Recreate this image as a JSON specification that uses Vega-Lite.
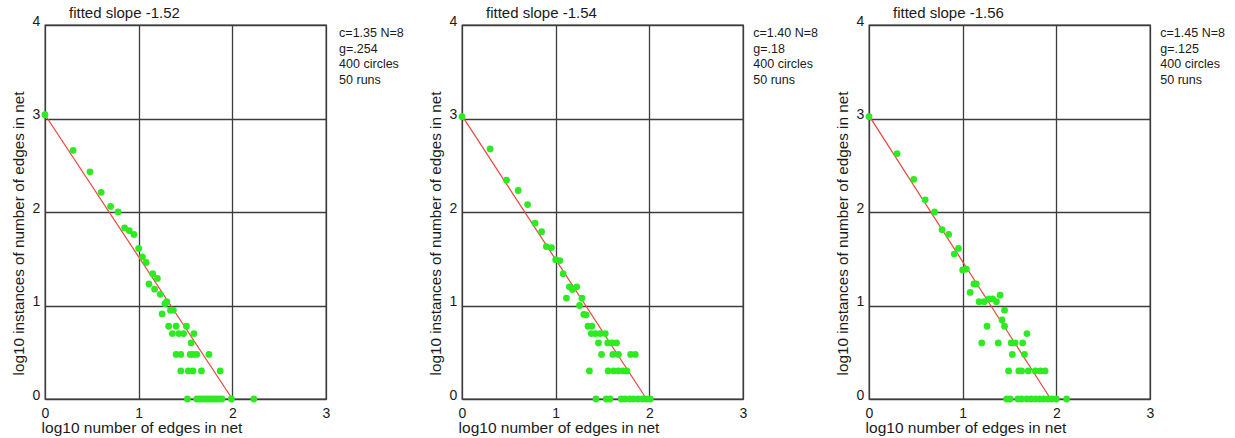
{
  "$schema": "https://vega.github.io/schema/vega-lite/v6.json",
  "padding": {"left": 10, "top": 5, "right": 0, "bottom": 0},
  "background": "white",
  "datasets": {
    "points": [
      {"panel": 1, "x": 0, "y": 3.04}, {"panel": 1, "x": 0.30, "y": 2.66}, {"panel": 1, "x": 0.48, "y": 2.43}, {"panel": 1, "x": 0.60, "y": 2.21}, {"panel": 1, "x": 0.70, "y": 2.06}, {"panel": 1, "x": 0.78, "y": 2.00}, {"panel": 1, "x": 0.85, "y": 1.83}, {"panel": 1, "x": 0.90, "y": 1.80}, {"panel": 1, "x": 0.95, "y": 1.76}, {"panel": 1, "x": 1.00, "y": 1.61}, {"panel": 1, "x": 1.04, "y": 1.52}, {"panel": 1, "x": 1.08, "y": 1.46}, {"panel": 1, "x": 1.15, "y": 1.34}, {"panel": 1, "x": 1.20, "y": 1.29}, {"panel": 1, "x": 1.11, "y": 1.23}, {"panel": 1, "x": 1.17, "y": 1.175}, {"panel": 1, "x": 1.23, "y": 1.12}, {"panel": 1, "x": 1.30, "y": 1.04}, {"panel": 1, "x": 1.28, "y": 1.02}, {"panel": 1, "x": 1.34, "y": 0.95}, {"panel": 1, "x": 1.37, "y": 0.95}, {"panel": 1, "x": 1.25, "y": 0.91}, {"panel": 1, "x": 1.32, "y": 0.778}, {"panel": 1, "x": 1.40, "y": 0.778}, {"panel": 1, "x": 1.51, "y": 0.778}, {"panel": 1, "x": 1.36, "y": 0.70}, {"panel": 1, "x": 1.43, "y": 0.70}, {"panel": 1, "x": 1.48, "y": 0.70}, {"panel": 1, "x": 1.59, "y": 0.70}, {"panel": 1, "x": 1.56, "y": 0.60}, {"panel": 1, "x": 1.40, "y": 0.477}, {"panel": 1, "x": 1.45, "y": 0.477}, {"panel": 1, "x": 1.55, "y": 0.477}, {"panel": 1, "x": 1.58, "y": 0.477}, {"panel": 1, "x": 1.62, "y": 0.477}, {"panel": 1, "x": 1.75, "y": 0.477}, {"panel": 1, "x": 1.45, "y": 0.30}, {"panel": 1, "x": 1.53, "y": 0.30}, {"panel": 1, "x": 1.58, "y": 0.30}, {"panel": 1, "x": 1.67, "y": 0.30}, {"panel": 1, "x": 1.87, "y": 0.30}, {"panel": 1, "x": 1.52, "y": 0}, {"panel": 1, "x": 1.62, "y": 0}, {"panel": 1, "x": 1.65, "y": 0}, {"panel": 1, "x": 1.68, "y": 0}, {"panel": 1, "x": 1.71, "y": 0}, {"panel": 1, "x": 1.74, "y": 0}, {"panel": 1, "x": 1.77, "y": 0}, {"panel": 1, "x": 1.80, "y": 0}, {"panel": 1, "x": 1.83, "y": 0}, {"panel": 1, "x": 1.86, "y": 0}, {"panel": 1, "x": 1.89, "y": 0}, {"panel": 1, "x": 1.99, "y": 0}, {"panel": 1, "x": 2.23, "y": 0},
      {"panel": 2, "x": 0, "y": 3.02}, {"panel": 2, "x": 0.30, "y": 2.675}, {"panel": 2, "x": 0.475, "y": 2.34}, {"panel": 2, "x": 0.60, "y": 2.23}, {"panel": 2, "x": 0.70, "y": 2.08}, {"panel": 2, "x": 0.78, "y": 1.88}, {"panel": 2, "x": 0.85, "y": 1.79}, {"panel": 2, "x": 0.90, "y": 1.63}, {"panel": 2, "x": 0.955, "y": 1.62}, {"panel": 2, "x": 1.00, "y": 1.49}, {"panel": 2, "x": 1.045, "y": 1.48}, {"panel": 2, "x": 1.08, "y": 1.34}, {"panel": 2, "x": 1.146, "y": 1.20}, {"panel": 2, "x": 1.18, "y": 1.17}, {"panel": 2, "x": 1.225, "y": 1.20}, {"panel": 2, "x": 1.115, "y": 1.08}, {"panel": 2, "x": 1.28, "y": 1.08}, {"panel": 2, "x": 1.255, "y": 1.00}, {"panel": 2, "x": 1.30, "y": 0.905}, {"panel": 2, "x": 1.325, "y": 0.90}, {"panel": 2, "x": 1.345, "y": 0.778}, {"panel": 2, "x": 1.386, "y": 0.778}, {"panel": 2, "x": 1.38, "y": 0.70}, {"panel": 2, "x": 1.425, "y": 0.70}, {"panel": 2, "x": 1.475, "y": 0.70}, {"panel": 2, "x": 1.53, "y": 0.70}, {"panel": 2, "x": 1.457, "y": 0.60}, {"panel": 2, "x": 1.556, "y": 0.60}, {"panel": 2, "x": 1.60, "y": 0.60}, {"panel": 2, "x": 1.65, "y": 0.60}, {"panel": 2, "x": 1.49, "y": 0.477}, {"panel": 2, "x": 1.61, "y": 0.477}, {"panel": 2, "x": 1.67, "y": 0.477}, {"panel": 2, "x": 1.80, "y": 0.477}, {"panel": 2, "x": 1.85, "y": 0.477}, {"panel": 2, "x": 1.36, "y": 0.30}, {"panel": 2, "x": 1.56, "y": 0.30}, {"panel": 2, "x": 1.62, "y": 0.30}, {"panel": 2, "x": 1.67, "y": 0.30}, {"panel": 2, "x": 1.72, "y": 0.30}, {"panel": 2, "x": 1.76, "y": 0.30}, {"panel": 2, "x": 1.43, "y": 0}, {"panel": 2, "x": 1.54, "y": 0}, {"panel": 2, "x": 1.58, "y": 0}, {"panel": 2, "x": 1.70, "y": 0}, {"panel": 2, "x": 1.74, "y": 0}, {"panel": 2, "x": 1.79, "y": 0}, {"panel": 2, "x": 1.83, "y": 0}, {"panel": 2, "x": 1.88, "y": 0}, {"panel": 2, "x": 1.93, "y": 0}, {"panel": 2, "x": 1.97, "y": 0}, {"panel": 2, "x": 2.01, "y": 0},
      {"panel": 3, "x": 0, "y": 3.02}, {"panel": 3, "x": 0.30, "y": 2.625}, {"panel": 3, "x": 0.478, "y": 2.35}, {"panel": 3, "x": 0.60, "y": 2.13}, {"panel": 3, "x": 0.70, "y": 2.00}, {"panel": 3, "x": 0.78, "y": 1.81}, {"panel": 3, "x": 0.85, "y": 1.76}, {"panel": 3, "x": 0.91, "y": 1.55}, {"panel": 3, "x": 0.955, "y": 1.61}, {"panel": 3, "x": 1.00, "y": 1.38}, {"panel": 3, "x": 1.04, "y": 1.39}, {"panel": 3, "x": 1.12, "y": 1.23}, {"panel": 3, "x": 1.145, "y": 1.23}, {"panel": 3, "x": 1.08, "y": 1.14}, {"panel": 3, "x": 1.176, "y": 1.04}, {"panel": 3, "x": 1.23, "y": 1.04}, {"panel": 3, "x": 1.28, "y": 1.07}, {"panel": 3, "x": 1.32, "y": 1.07}, {"panel": 3, "x": 1.36, "y": 1.04}, {"panel": 3, "x": 1.40, "y": 1.11}, {"panel": 3, "x": 1.447, "y": 0.95}, {"panel": 3, "x": 1.42, "y": 0.846}, {"panel": 3, "x": 1.447, "y": 0.778}, {"panel": 3, "x": 1.26, "y": 0.778}, {"panel": 3, "x": 1.686, "y": 0.70}, {"panel": 3, "x": 1.204, "y": 0.60}, {"panel": 3, "x": 1.38, "y": 0.60}, {"panel": 3, "x": 1.518, "y": 0.60}, {"panel": 3, "x": 1.56, "y": 0.60}, {"panel": 3, "x": 1.64, "y": 0.60}, {"panel": 3, "x": 1.53, "y": 0.477}, {"panel": 3, "x": 1.66, "y": 0.477}, {"panel": 3, "x": 1.49, "y": 0.30}, {"panel": 3, "x": 1.60, "y": 0.30}, {"panel": 3, "x": 1.63, "y": 0.30}, {"panel": 3, "x": 1.70, "y": 0.30}, {"panel": 3, "x": 1.775, "y": 0.30}, {"panel": 3, "x": 1.83, "y": 0.30}, {"panel": 3, "x": 1.88, "y": 0.30}, {"panel": 3, "x": 1.47, "y": 0}, {"panel": 3, "x": 1.507, "y": 0}, {"panel": 3, "x": 1.59, "y": 0}, {"panel": 3, "x": 1.63, "y": 0}, {"panel": 3, "x": 1.686, "y": 0}, {"panel": 3, "x": 1.73, "y": 0}, {"panel": 3, "x": 1.775, "y": 0}, {"panel": 3, "x": 1.82, "y": 0}, {"panel": 3, "x": 1.864, "y": 0}, {"panel": 3, "x": 1.91, "y": 0}, {"panel": 3, "x": 1.95, "y": 0}, {"panel": 3, "x": 2.0, "y": 0}, {"panel": 3, "x": 2.11, "y": 0}
    ],
    "fits": [
      {"panel": 1, "x": 0, "y": 3.04}, {"panel": 1, "x": 2.0, "y": 0},
      {"panel": 2, "x": 0, "y": 3.03}, {"panel": 2, "x": 1.97, "y": 0},
      {"panel": 3, "x": 0, "y": 3.03}, {"panel": 3, "x": 1.94, "y": 0}
    ]
  },
  "spacing": 22,
  "hconcat": [
    {
      "width": 281, "height": 374,
      "title": {"text": "fitted slope -1.52"},
      "layer": [
        {"data": {"name": "fits"}, "transform": [{"filter": "datum.panel == 1"}],
         "mark": {"type": "line", "color": "#e8453c", "strokeWidth": 1.2, "clip": false},
         "encoding": {
           "x": {"field": "x", "type": "quantitative", "scale": {"domain": [0, 3], "nice": false}, "axis": {"title": "log10 number of edges in net", "values": [0, 1, 2, 3], "format": "d"}},
           "y": {"field": "y", "type": "quantitative", "scale": {"domain": [0, 4], "nice": false}, "axis": {"title": "log10 instances of number of edges in net", "values": [0, 1, 2, 3, 4], "format": "d"}}}},
        {"data": {"name": "points"}, "transform": [{"filter": "datum.panel == 1"}],
         "mark": {"type": "circle", "color": "#2eea22", "opacity": 1, "size": 46, "clip": false},
         "encoding": {"x": {"field": "x", "type": "quantitative"}, "y": {"field": "y", "type": "quantitative"}}},
        {"data": {"values": [{}]},
         "mark": {"type": "text", "align": "left", "baseline": "alphabetic", "font": "Liberation Sans", "fontSize": 12.5, "lineHeight": 15.5, "color": "#1a1a1a", "clip": false},
         "encoding": {"x": {"datum": 3.14}, "y": {"datum": 3.87}, "text": {"value": ["c=1.35 N=8", "g=.254", "400 circles", "50 runs"]}}}
      ]
    },
    {
      "spacing": 15,
      "hconcat": [
        {
          "width": 281, "height": 374,
          "title": {"text": "fitted slope -1.54"},
          "layer": [
            {"data": {"name": "fits"}, "transform": [{"filter": "datum.panel == 2"}],
             "mark": {"type": "line", "color": "#e8453c", "strokeWidth": 1.2, "clip": false},
             "encoding": {
               "x": {"field": "x", "type": "quantitative", "scale": {"domain": [0, 3], "nice": false}, "axis": {"title": "log10 number of edges in net", "values": [0, 1, 2, 3], "format": "d"}},
               "y": {"field": "y", "type": "quantitative", "scale": {"domain": [0, 4], "nice": false}, "axis": {"title": "log10 instances of number of edges in net", "values": [0, 1, 2, 3, 4], "format": "d"}}}},
            {"data": {"name": "points"}, "transform": [{"filter": "datum.panel == 2"}],
             "mark": {"type": "circle", "color": "#2eea22", "opacity": 1, "size": 46, "clip": false},
             "encoding": {"x": {"field": "x", "type": "quantitative"}, "y": {"field": "y", "type": "quantitative"}}},
            {"data": {"values": [{}]},
             "mark": {"type": "text", "align": "left", "baseline": "alphabetic", "font": "Liberation Sans", "fontSize": 12.5, "lineHeight": 15.5, "color": "#1a1a1a", "clip": false},
             "encoding": {"x": {"datum": 3.11}, "y": {"datum": 3.87}, "text": {"value": ["c=1.40 N=8", "g=.18", "400 circles", "50 runs"]}}}
          ]
        },
        {
          "width": 281, "height": 374,
          "title": {"text": "fitted slope -1.56"},
          "layer": [
            {"data": {"name": "fits"}, "transform": [{"filter": "datum.panel == 3"}],
             "mark": {"type": "line", "color": "#e8453c", "strokeWidth": 1.2, "clip": false},
             "encoding": {
               "x": {"field": "x", "type": "quantitative", "scale": {"domain": [0, 3], "nice": false}, "axis": {"title": "log10 number of edges in net", "values": [0, 1, 2, 3], "format": "d"}},
               "y": {"field": "y", "type": "quantitative", "scale": {"domain": [0, 4], "nice": false}, "axis": {"title": "log10 instances of number of edges in net", "values": [0, 1, 2, 3, 4], "format": "d"}}}},
            {"data": {"name": "points"}, "transform": [{"filter": "datum.panel == 3"}],
             "mark": {"type": "circle", "color": "#2eea22", "opacity": 1, "size": 46, "clip": false},
             "encoding": {"x": {"field": "x", "type": "quantitative"}, "y": {"field": "y", "type": "quantitative"}}},
            {"data": {"values": [{}]},
             "mark": {"type": "text", "align": "left", "baseline": "alphabetic", "font": "Liberation Sans", "fontSize": 12.5, "lineHeight": 15.5, "color": "#1a1a1a", "clip": false},
             "encoding": {"x": {"datum": 3.11}, "y": {"datum": 3.87}, "text": {"value": ["c=1.45 N=8", "g=.125", "400 circles", "50 runs"]}}}
          ]
        }
      ]
    }
  ],
  "config": {
    "view": {"stroke": "#3c3c3c", "strokeWidth": 1.3},
    "title": {"anchor": "start", "frame": "group", "dx": 24, "offset": -7, "fontSize": 15, "fontWeight": "normal", "font": "Liberation Sans", "color": "#1a1a1a", "baseline": "alphabetic"},
    "axis": {"grid": true, "gridColor": "#3c3c3c", "gridWidth": 1.3, "gridOpacity": 1, "domain": false, "ticks": false, "tickSize": 0, "labelFont": "Liberation Sans", "labelFontSize": 14, "labelColor": "#1a1a1a", "labelFlush": false, "labelOverlap": false, "titleFont": "Liberation Sans", "titleFontWeight": "normal", "titleColor": "#1a1a1a"},
    "axisX": {"labelDx": 4, "labelPadding": 7, "labelAlign": "center", "labelBaseline": "top", "titleFontSize": 15.5, "titleX": 96.5, "titleY": 28, "titleBaseline": "middle", "titleAlign": "center"},
    "axisY": {"labelAlign": "center", "labelBaseline": "alphabetic", "labelPadding": 9, "labelDy": -1, "titleFontSize": 15.3, "titleX": -27, "titleY": 208, "titleBaseline": "middle", "titleAlign": "center", "titleAngle": -90}
  }
}
